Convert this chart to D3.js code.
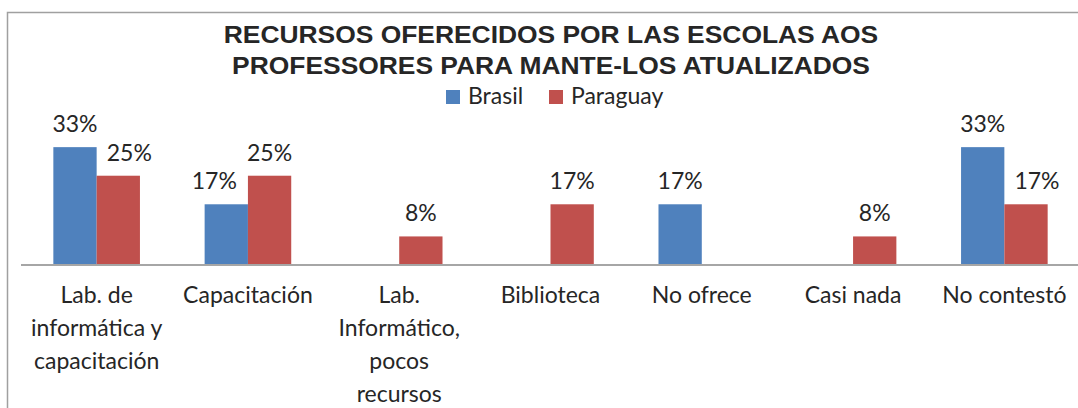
<!DOCTYPE html>
<html>
<head>
<meta charset="utf-8">
<script src="https://cdn.jsdelivr.net/npm/d3@7"></script>
<style>
  html, body { margin: 0; padding: 0; background: #fff; }
  svg { display: block; }
</style>
</head>
<body>
<div id="chart"></div>
<script>
  /* Data */
  var categories = ["lab_cap", "cap", "lab_pocos", "biblio", "no_ofrece", "casi_nada", "no_contesto"];
  var categoryLabels = [
    ["Lab. de", "informática y", "capacitación"],
    ["Capacitación"],
    ["Lab.", "Informático,", "pocos", "recursos"],
    ["Biblioteca"],
    ["No ofrece"],
    ["Casi nada"],
    ["No contestó"]
  ];
  var seriesNames = ["Brasil", "Paraguay"];
  var seriesColors = ["#4F81BD", "#C0504D"];
  var brasil = [33, 17, 0, 0, 17, 0, 33];
  var paraguay = [25, 25, 8, 17, 0, 8, 17];
  var titleLines = [
    "RECURSOS OFERECIDOS POR LAS ESCOLAS AOS",
    "PROFESSORES PARA MANTE-LOS ATUALIZADOS"
  ];

  var W = 1078, H = 408;
  var textCol = "#262626";
  var labelFont = "Lato, 'Open Sans', sans-serif";
  var labelSize = 23;

  var svg = d3.select("#chart").append("svg")
    .attr("width", W).attr("height", H)
    .style("background", "#fff");

  /* Chart frame */
  svg.append("rect")
    .attr("x", 7.5).attr("y", 12.5)
    .attr("width", W + 20).attr("height", H + 20)
    .attr("fill", "#fff")
    .attr("stroke", "#a0a0a0").attr("stroke-width", 1.5);

  /* Title */
  var titleG = svg.append("g")
    .attr("font-family", "'Liberation Sans', Arial, sans-serif")
    .attr("font-weight", "bold").attr("font-size", 24)
    .attr("fill", textCol).attr("text-anchor", "middle");
  titleLines.forEach(function (t, i) {
    titleG.append("text")
      .attr("transform", "translate(551," + (43 + i * 31) + ") scale(1.1,1)")
      .text(t);
  });

  /* Scales */
  var x0 = d3.scaleBand().domain(categories).range([21, 1080]);
  var x1 = d3.scaleBand().domain(seriesNames).range([0, x0.bandwidth()]).paddingOuter(0.747);
  var y = d3.scaleLinear().domain([0, 35]).range([265, 140]);

  var rows = categories.map(function (c, i) {
    return { cat: c, vals: [brasil[i], paraguay[i]] };
  });

  /* Bars */
  var groups = svg.append("g").selectAll("g")
    .data(rows).enter().append("g")
    .attr("transform", function (d) { return "translate(" + x0(d.cat) + ",0)"; });

  groups.selectAll("rect")
    .data(function (d) {
      return d.vals.map(function (v, j) { return { s: seriesNames[j], v: v, j: j }; });
    })
    .enter().filter(function (d) { return d.v > 0; }).append("rect")
    .attr("x", function (d) { return x1(d.s); })
    .attr("y", function (d) { return y(d.v); })
    .attr("width", x1.bandwidth())
    .attr("height", function (d) { return y(0) - y(d.v); })
    .attr("fill", function (d) { return seriesColors[d.j]; });

  /* Value labels (lower label nudged away when both bars exist) */
  groups.each(function (row) {
    var g = d3.select(this);
    row.vals.forEach(function (v, j) {
      if (!(v > 0)) return;
      var other = row.vals[1 - j];
      var shift = 0;
      if (other > 0 && v < other) shift = j === 0 ? -12 : 11;
      g.append("text")
        .attr("x", x1(seriesNames[j]) + x1.bandwidth() / 2 + shift)
        .attr("y", y(v) - 15)
        .attr("text-anchor", "middle")
        .attr("font-family", labelFont).attr("font-size", labelSize)
        .attr("fill", textCol)
        .text(v + "%");
    });
  });

  /* Category axis */
  var axis = svg.append("g")
    .attr("transform", "translate(0," + y(0) + ")")
    .call(d3.axisBottom(x0).tickSize(0).tickFormat(""));
  axis.select(".domain")
    .attr("d", "M21,0H" + (W + 10))
    .attr("stroke", "#a6a6a6").attr("stroke-width", 2);

  axis.selectAll(".tick text").remove();
  axis.selectAll(".tick").each(function (c) {
    var lines = categoryLabels[categories.indexOf(c)];
    var t = d3.select(this).append("text")
      .attr("text-anchor", "middle")
      .attr("font-family", labelFont).attr("font-size", labelSize)
      .attr("fill", textCol);
    lines.forEach(function (ln, k) {
      t.append("tspan").attr("x", 0).attr("y", 38 + k * 33).text(ln);
    });
  });

  /* Legend */
  var legend = svg.append("g").attr("font-family", labelFont).attr("font-size", labelSize).attr("fill", textCol);
  var legendX = [446, 549];
  seriesNames.forEach(function (s, i) {
    legend.append("rect")
      .attr("x", legendX[i]).attr("y", 90)
      .attr("width", 14).attr("height", 14)
      .attr("fill", seriesColors[i]);
    legend.append("text")
      .attr("x", legendX[i] + 22).attr("y", 104)
      .text(s);
  });
</script>
</body>
</html>
